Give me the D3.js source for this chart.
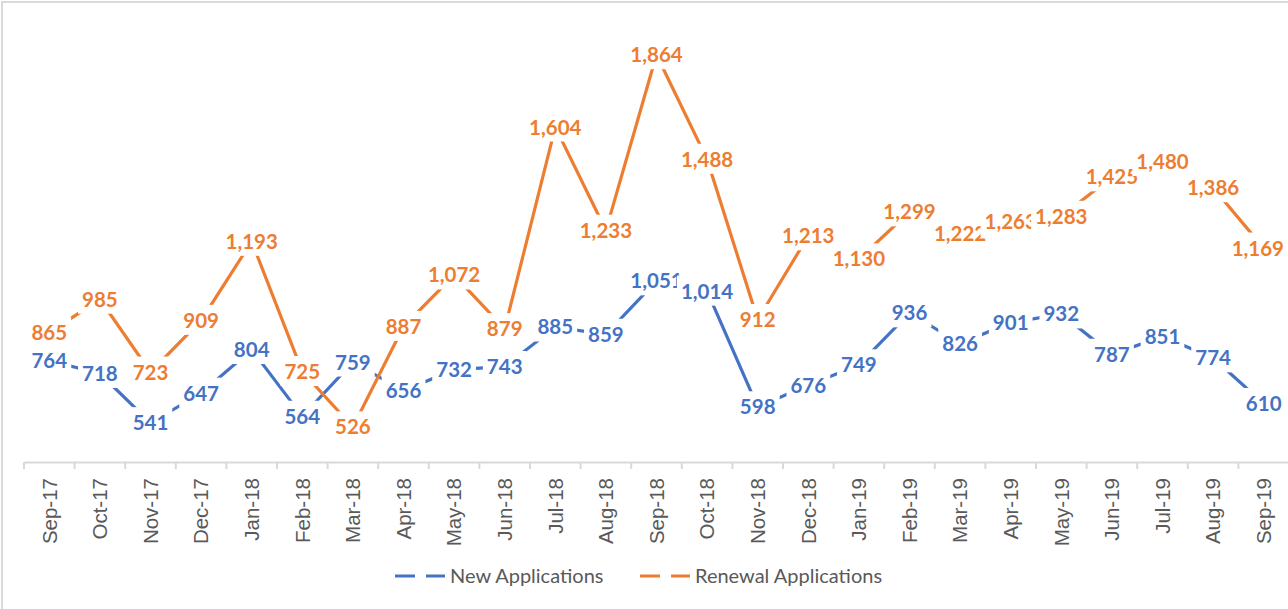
<!DOCTYPE html>
<html>
<head>
<meta charset="utf-8">
<script src="https://cdn.jsdelivr.net/npm/d3@7"></script>
<style>
  body { margin: 0; background: #fff; }
  svg { display: block; font-family: Lato, "Open Sans", sans-serif; }
</style>
</head>
<body>
<svg id="chart" width="1288" height="609"></svg>
<script>
const months = ["Sep-17","Oct-17","Nov-17","Dec-17","Jan-18","Feb-18","Mar-18","Apr-18","May-18","Jun-18","Jul-18","Aug-18",
  "Sep-18","Oct-18","Nov-18","Dec-18","Jan-19","Feb-19","Mar-19","Apr-19","May-19","Jun-19","Jul-19","Aug-19","Sep-19"];
const newApps = [764,718,541,647,804,564,759,656,732,743,885,859,1051,1014,598,676,749,936,826,901,932,787,851,774,610];
const renewalApps = [865,985,723,909,1193,725,526,887,1072,879,1604,1233,1864,1488,912,1213,1130,1299,1222,1263,1283,1425,1480,1386,1169];
const seriesNames = ["New Applications", "Renewal Applications"];
const colors = ["#4472C4", "#ED7D31"];

const svg = d3.select("#chart");
const fmt = d3.format(",");

// chart frame (cut off on right / bottom like the source)
svg.append("rect")
  .attr("x", 2).attr("y", 2).attr("width", 1300).attr("height", 620)
  .attr("fill", "none").attr("stroke", "#d9d9d9").attr("stroke-width", 2);

const x = d3.scaleBand().domain(months).range([24, 1289]);
const y = d3.scaleLinear().domain([400, 2000]).range([462, 17]);

// x axis
const xAxis = d3.axisBottom(x).tickSize(0).tickPadding(0);
const axisG = svg.append("g").attr("transform", "translate(0,462)").call(xAxis);
axisG.select(".domain").attr("stroke", "#d9d9d9").attr("stroke-width", 2);
axisG.selectAll(".tick text")
  .attr("transform", "rotate(-90)")
  .attr("x", -16).attr("y", 0).attr("dy", "0.36em")
  .attr("text-anchor", "end")
  .attr("fill", "#595959")
  .attr("font-size", 20.5);
// tick marks between categories
svg.append("g").selectAll("line")
  .data(months.concat(["end"]))
  .join("line")
  .attr("x1", (d, i) => x.range()[0] + i * x.step())
  .attr("x2", (d, i) => x.range()[0] + i * x.step())
  .attr("y1", 462).attr("y2", 469)
  .attr("stroke", "#d9d9d9").attr("stroke-width", 2);

const series = [newApps, renewalApps];
const cx = d => x(d) + x.bandwidth() / 2;

const line = d3.line()
  .x((d, i) => cx(months[i]))
  .y(d => y(d));

series.forEach((s, k) => {
  svg.append("path")
    .datum(s)
    .attr("d", line)
    .attr("fill", "none")
    .attr("stroke", colors[k])
    .attr("stroke-width", 3.2);
});

// data labels with white boxes, kept inside the visible area
const rightLimit = 1284;
series.forEach((s, k) => {
  const g = svg.append("g");
  s.forEach((v, i) => {
    const lg = g.append("g");
    const t = lg.append("text")
      .attr("x", cx(months[i]))
      .attr("y", y(v))
      .attr("dy", "0.36em")
      .attr("text-anchor", "middle")
      .attr("font-size", 20.5)
      .attr("font-weight", "bold")
      .attr("fill", colors[k])
      .text(fmt(v));
    let b = t.node().getBBox();
    if (b.x + b.width > rightLimit) {
      t.attr("x", cx(months[i]) - (b.x + b.width - rightLimit));
      b = t.node().getBBox();
    }
    lg.insert("rect", "text")
      .attr("x", b.x - 4).attr("y", b.y - 3)
      .attr("width", b.width + 8).attr("height", b.height + 6)
      .attr("fill", "#fff");
  });
});

// legend
const legend = [
  { name: seriesNames[0], x: 395, color: colors[0] },
  { name: seriesNames[1], x: 640, color: colors[1] }
];
const lg = svg.append("g").selectAll("g").data(legend).join("g")
  .attr("transform", d => `translate(${d.x},576)`);
lg.append("line")
  .attr("x1", 0).attr("x2", 50).attr("y1", 0).attr("y2", 0)
  .attr("stroke", d => d.color).attr("stroke-width", 3)
  .attr("stroke-dasharray", "20,11");
lg.append("text")
  .attr("x", 55).attr("dy", "0.35em")
  .attr("font-size", 20)
  .attr("fill", "#595959")
  .text(d => d.name);
</script>
</body>
</html>
